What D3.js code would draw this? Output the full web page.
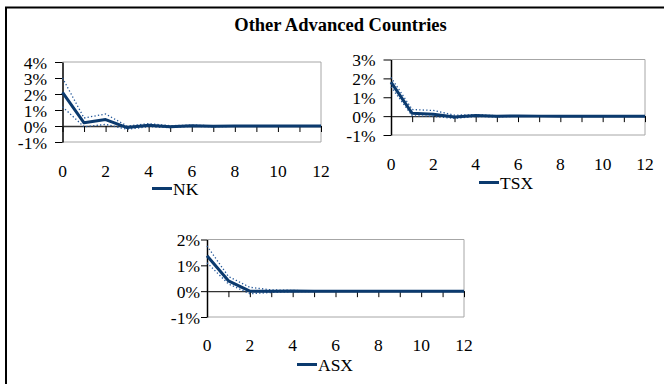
<!DOCTYPE html>
<html><head><meta charset="utf-8">
<script src="https://cdn.jsdelivr.net/npm/d3@7"></script>
<style>html,body{margin:0;padding:0;background:#fff;}svg{display:block;}</style>
</head><body>
<svg id="c" width="664" height="384"></svg>
<script>
const steps = [0,1,2,3,4,5,6,7,8,9,10,11,12];
const xTickLabels = [0,2,4,6,8,10,12];
const nkMid = [2.1,0.2,0.4,-0.1,0.05,-0.05,0.02,-0.02,0,0,0,0,0];
const nkUp  = [3.0,0.5,0.75,0.0,0.15,0.02,0.06,0.01,0.02,0.01,0.01,0,0];
const nkLo  = [1.2,-0.05,0.1,-0.2,-0.05,-0.1,-0.02,-0.05,-0.02,-0.01,-0.01,0,0];
const tsxMid = [1.8,0.15,0.1,-0.05,0.03,-0.01,0.01,0,0,0,0,0,0];
const tsxUp  = [2.05,0.35,0.3,0.05,0.08,0.02,0.03,0.01,0.01,0,0,0,0];
const tsxLo  = [1.55,0.02,-0.02,-0.12,-0.02,-0.04,-0.01,-0.01,0,0,0,0,0];
const asxMid = [1.37,0.4,0.0,0.0,0.01,0,0,0,0,0,0,0,0];
const asxUp  = [1.75,0.57,0.15,0.05,0.03,0.01,0,0,0,0,0,0,0];
const asxLo  = [1.1,0.28,-0.1,-0.05,-0.02,-0.01,0,0,0,0,0,0,0];
const nkTicks = [-1,0,1,2,3,4];
const tsxTicks = [-1,0,1,2,3];
const asxTicks = [-1,0,1,2];

const svg = d3.select("#c");
const font = "'Liberation Serif','Times New Roman',serif";
const navy = "#0b3a6e";
const fs = 17.5;

svg.append("line").attr("x1",6).attr("x2",6).attr("y1",7).attr("y2",384).attr("stroke","#000").attr("stroke-width",2);
svg.append("line").attr("x1",5).attr("x2",664).attr("y1",7.5).attr("y2",7.5).attr("stroke","#000").attr("stroke-width",2);

svg.append("text").attr("x",340.5).attr("y",31).attr("text-anchor","middle")
  .attr("font-family",font).attr("font-weight","bold").attr("font-size",18.5).text("Other Advanced Countries");

function panel(o){
  const x = d3.scaleLinear().domain([0,12]).range([o.l,o.r]);
  const y = d3.scaleLinear().domain([o.ticks[0], o.ticks[o.ticks.length-1]]).range([o.b,o.t]);
  const g = svg.append("g");
  g.append("path").attr("d",`M${o.l},${o.t}H${o.r}V${o.b}H${o.l}`).attr("fill","none").attr("stroke","#a6a6a6").attr("stroke-width",1);
  const ya = d3.axisLeft(y).tickValues(o.ticks).tickSize(o.ts).tickSizeOuter(0).tickPadding(o.pad).tickFormat(d=>d+"%");
  const yg = g.append("g").attr("transform",`translate(${o.l},0)`).call(ya);
  yg.select(".domain").attr("stroke","#000").attr("stroke-width",1.5);
  yg.selectAll("line").attr("stroke","#000");
  yg.selectAll("text").attr("font-family",font).attr("font-size",fs).attr("fill","#000").attr("dy","0.36em");
  const xa = d3.axisBottom(x).tickValues(steps).tickSize(6).tickSizeOuter(0).tickFormat("");
  const xg = g.append("g").attr("transform",`translate(0,${y(0)})`).call(xa);
  xg.select(".domain").attr("stroke","#333").attr("stroke-width",1.3);
  xg.selectAll("line").attr("stroke","#000");
  g.selectAll(".xl").data(xTickLabels).enter().append("text")
    .attr("x",d=>x(d)).attr("y",o.lab).attr("text-anchor","middle")
    .attr("font-family",font).attr("font-size",fs).text(d=>d);
  const line = d3.line().x((d,i)=>x(steps[i])).y(d=>y(d));
  [o.up,o.lo].forEach(s=>{
    g.append("path").attr("d",line(s)).attr("fill","none").attr("stroke","#24589a").attr("stroke-width",1.3).attr("stroke-dasharray","1.3,2.2");
  });
  g.append("path").attr("d",line(o.mid)).attr("fill","none").attr("stroke",navy).attr("stroke-width",3).attr("stroke-linejoin","round");
  g.append("line").attr("x1",o.lx).attr("x2",o.lx+20).attr("y1",o.ly).attr("y2",o.ly).attr("stroke",navy).attr("stroke-width",3);
  g.append("text").attr("x",o.lx+21).attr("y",o.ly+6).attr("font-family",font).attr("font-size",fs).text(o.name);
}

panel({l:62.5,r:321,t:62,b:142,ticks:nkTicks,ts:7.5,pad:8,mid:nkMid,up:nkUp,lo:nkLo,lab:177,lx:152,ly:188.5,name:"NK"});
panel({l:391,r:645,t:59.5,b:135,ticks:tsxTicks,ts:7.5,pad:8,mid:tsxMid,up:tsxUp,lo:tsxLo,lab:170,lx:479,ly:182.5,name:"TSX"});
panel({l:207,r:464,t:239.5,b:317,ticks:asxTicks,ts:6,pad:1,mid:asxMid,up:asxUp,lo:asxLo,lab:351,lx:297,ly:364.5,name:"ASX"});
</script>
</body></html>
